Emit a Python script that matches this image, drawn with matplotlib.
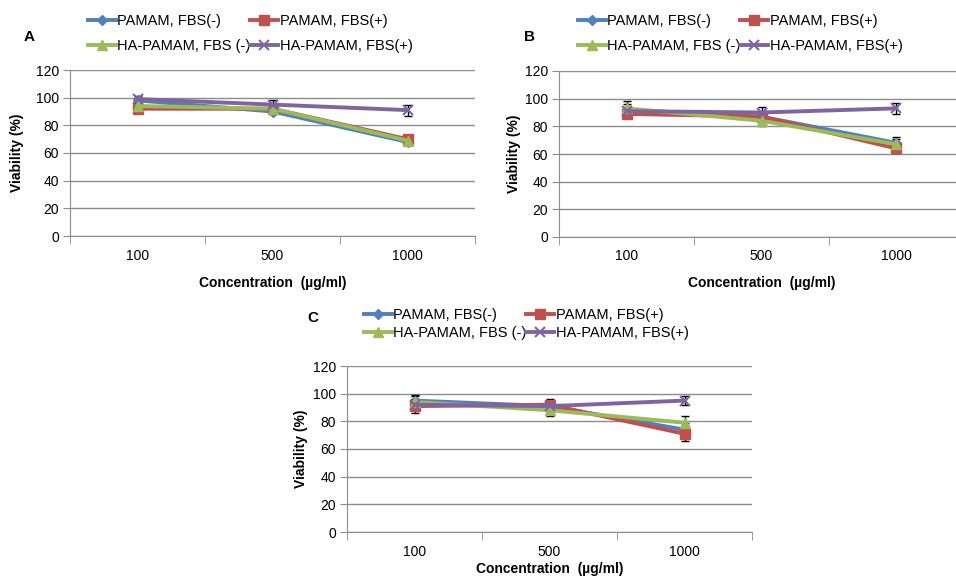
import numpy as np
import matplotlib.pyplot as plt
from matplotlib.ticker import FixedLocator

plt.rcParams['font.family'] = ['Liberation Sans', 'DejaVu Sans']

concentrations = ['100', '500', '1000']
series_names = ['PAMAM, FBS(-)', 'PAMAM, FBS(+)', 'HA-PAMAM, FBS (-)', 'HA-PAMAM, FBS(+)']

# panel A
a_pamam_neg = [98, 90, 68]
a_pamam_pos = [92, 92, 70]
a_ha_neg = [94, 92, 69]
a_ha_pos = [99, 95, 91]
a_err = [[2, 2, 2], [2, 2, 2], [2, 2, 2], [2, 3, 4]]

# panel B
b_pamam_neg = [92, 87, 68]
b_pamam_pos = [89, 87, 64]
b_ha_neg = [93, 84, 67]
b_ha_pos = [91, 90, 93]
b_err = [[4, 3, 4], [3, 3, 3], [5, 4, 4], [3, 4, 4]]

# panel C
c_pamam_neg = [95, 91, 74]
c_pamam_pos = [91, 92, 71]
c_ha_neg = [94, 88, 79]
c_ha_pos = [92, 91, 95]
c_err = [[4, 4, 5], [5, 4, 5], [4, 4, 5], [4, 4, 3]]

colors = ['#4F81BD', '#C0504D', '#9BBB59', '#8064A2']
markers = ['D', 's', '^', 'x']
msizes = [5, 7, 7, 7]

W, H = 956, 577
fig = plt.figure(figsize=(W / 100, H / 100), dpi=100)


def px_axes(x0, y0, x1, y1):
    return fig.add_axes([x0 / W, 1 - y1 / H, (x1 - x0) / W, (y1 - y0) / H])


def panel(ax, data, errs, letter, letter_xy, legend_xy, legend_sp, ylab_x, xlab_y):
    x = np.arange(len(concentrations))
    handles = []
    for i, vals in enumerate(data):
        ax.errorbar(x, vals, yerr=errs[i], fmt='none', ecolor='black',
                    elinewidth=1, capsize=3, zorder=3)
        h, = ax.plot(x, vals, color=colors[i], marker=markers[i], ms=msizes[i],
                     mew=1.5 if markers[i] == 'x' else 1, lw=2.8, zorder=4,
                     label=series_names[i])
        handles.append(h)
    ax.set_xlim(-0.5, 2.5)
    ax.set_ylim(0, 120)
    ax.set_yticks(range(0, 121, 20))
    ax.yaxis.grid(True, color='#8c8c8c', lw=1)
    ax.set_axisbelow(True)
    ax.set_xticks(x)
    ax.set_xticklabels(concentrations)
    ax.xaxis.set_minor_locator(FixedLocator([-0.5, 0.5, 1.5, 2.5]))
    ax.tick_params(axis='x', which='major', length=0, pad=9, labelsize=10)
    ax.tick_params(axis='x', which='minor', length=6, color='#8c8c8c')
    ax.tick_params(axis='y', length=5, color='#8c8c8c', pad=3, labelsize=10)
    for s in ['top', 'right']:
        ax.spines[s].set_visible(False)
    for s in ['left', 'bottom']:
        ax.spines[s].set_color('#8c8c8c')
    ax.set_ylabel('Viability (%)', fontweight='bold', fontsize=10)
    ax.yaxis.set_label_coords(ylab_x, 0.5)
    ax.set_xlabel('Concentration  (µg/ml)', fontweight='bold', fontsize=10)
    ax.xaxis.set_label_coords(0.5, xlab_y)
    fig.text(letter_xy[0] / W, 1 - letter_xy[1] / H, letter, fontweight='bold',
             fontsize=11, ha='left', va='center')
    order = [handles[0], handles[2], handles[1], handles[3]]
    fig.legend(order, [h.get_label() for h in order], ncol=2, frameon=False,
               loc='upper left', bbox_to_anchor=(legend_xy[0] / W, 1 - legend_xy[1] / H),
               fontsize=10.5, handlelength=1.9, handletextpad=0.1, columnspacing=0.0,
               labelspacing=legend_sp, borderaxespad=0, borderpad=0)


axA = px_axes(70, 70, 475, 236)
panel(axA, [a_pamam_neg, a_pamam_pos, a_ha_neg, a_ha_pos], a_err, 'A',
      (24, 37), (88, 14), 0.75, -0.113, -0.24)

axB = px_axes(559, 71, 964, 237)
panel(axB, [b_pamam_neg, b_pamam_pos, b_ha_neg, b_ha_pos], b_err, 'B',
      (524, 37), (578, 14), 0.75, -0.094, -0.235)

axC = px_axes(347, 366, 752, 532)
panel(axC, [c_pamam_neg, c_pamam_pos, c_ha_neg, c_ha_pos], c_err, 'C',
      (307, 318), (364, 308), 0.3, -0.096, -0.18)

fig.savefig('out.png', dpi=100)
